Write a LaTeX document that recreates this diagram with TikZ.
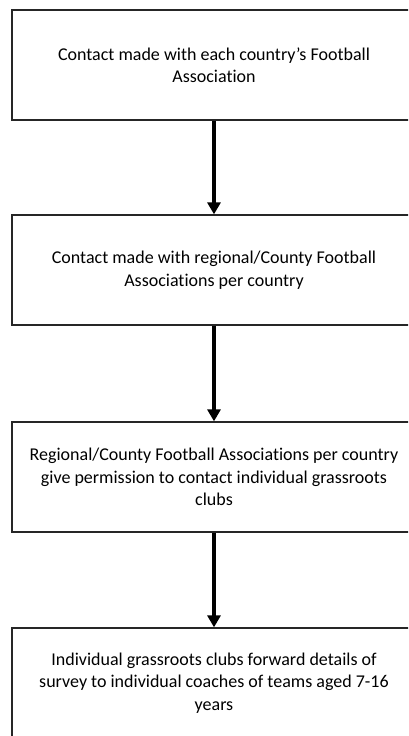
\documentclass[tikz,border=0pt]{standalone}
\usepackage{fontspec}
\setmainfont{Carlito}[Ligatures={NoCommon}]
\usetikzlibrary{arrows.meta}

\begin{document}
\begin{tikzpicture}[x=1pt,y=-1pt,
  stage/.style={draw=black!85,line width=1.3pt,minimum width=404pt,minimum height=110pt,
    align=center,inner sep=0pt,font=\fontsize{18}{22.5}\selectfont},
  flow/.style={line width=4pt,-{Triangle[width=13pt,length=12pt]}}]
\useasboundingbox (0,0) rectangle (408,736);
\clip (0,0) rectangle (408,736);

\node[stage] (national) at (214,65) {Contact made with each country’s Football\\Association};
\node[stage] (regional) at (214,270) {Contact made with regional/County Football\\Associations per country};
\node[stage] (permission) at (214,477) {Regional/County Football Associations per country\\give permission to contact individual grassroots\\clubs};
\node[stage] (clubs) at (214,683) {Individual grassroots clubs forward details of\\survey to individual coaches of teams aged 7-16\\years};

\draw[flow] (national) -- (regional);
\draw[flow] (regional) -- (permission);
\draw[flow] (permission) -- (clubs);
\end{tikzpicture}
\end{document}
